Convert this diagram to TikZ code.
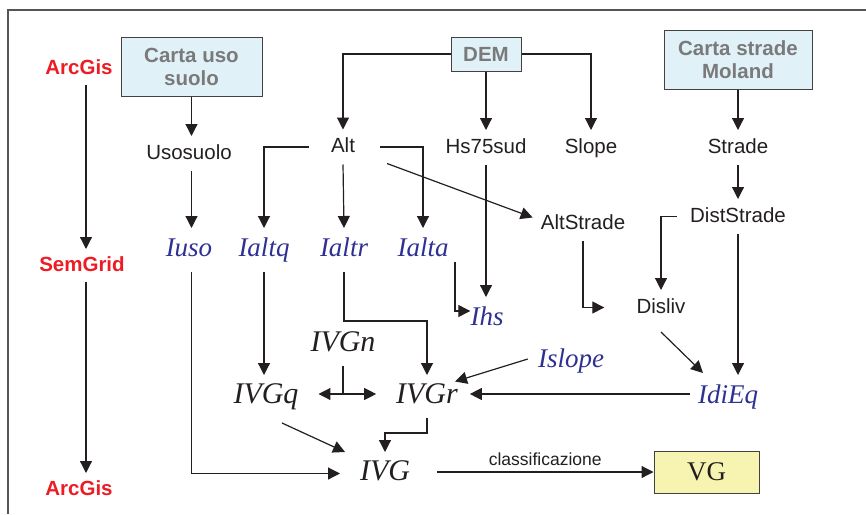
\documentclass[tikz,border=0pt]{standalone}
\usepackage{fontspec}
\setmainfont{Liberation Serif}
\setsansfont{Liberation Sans}
\usetikzlibrary{arrows.meta}

\definecolor{lineC}{HTML}{231F20}
\definecolor{frameC}{HTML}{555555}
\definecolor{toolRed}{HTML}{ED1C24}
\definecolor{idxBlue}{HTML}{2E3192}
\definecolor{srcFill}{HTML}{E1F1F8}
\definecolor{srcText}{HTML}{7A7A7A}
\definecolor{outFill}{HTML}{F7F3B0}

\tikzset{
  conn/.style={draw=lineC, line width=1.2pt, -{Triangle[length=12pt,width=12pt]}},
  plain/.style={draw=lineC, line width=1.2pt},
  tool/.style={font=\sffamily\bfseries\fontsize{20.5}{23}\selectfont, text=toolRed,
    inner sep=0pt, text height=15pt, text depth=4pt, outer ysep=7pt},
  srcbox/.style={draw=lineC!85, line width=1pt, fill=srcFill, text=srcText,
    font=\sffamily\bfseries\fontsize{20.5}{23}\selectfont, align=center, inner sep=0pt},
  var/.style={font=\sffamily\fontsize{20.5}{24}\selectfont, text=lineC,
    inner sep=0pt, text height=15pt, text depth=4pt, outer ysep=8pt},
  idx/.style={font=\itshape\fontsize{27}{30}\selectfont, text=idxBlue,
    inner sep=0pt, text height=18pt, text depth=6pt, outer ysep=10pt},
  ivgl/.style={font=\itshape\fontsize{30}{33}\selectfont, text=lineC,
    inner sep=0pt, text height=20pt, text depth=7pt, outer ysep=8pt, outer xsep=20pt},
  outbox/.style={draw=lineC!85, line width=1pt, fill=outFill, text=lineC,
    font=\fontsize{27}{30}\selectfont, inner sep=0pt},
}

\begin{document}
\begin{tikzpicture}[x=1pt, y=-1pt]
  \useasboundingbox (0,0) rectangle (866,514);

  % open frame
  \draw[frameC, line width=1.2pt] (866,10) -- (8,10) -- (8,514);

  % software column
  \node[tool] (arc1) at (79,68.5) {ArcGis};
  \node[tool] (sem)  at (82,265.5) {SemGrid};
  \node[tool] (arc2) at (79,489.5) {ArcGis};
  \coordinate (toolx) at (86,0);
  \draw[conn] (toolx |- arc1.south) -- (toolx |- sem.north);
  \draw[conn] (toolx |- sem.south) -- (toolx |- arc2.north);

  % source layers
  \node[srcbox, minimum width=141pt, minimum height=59pt] (cus) at (191.5,66.5) {Carta uso\\suolo};
  \node[srcbox, minimum width=70pt, minimum height=34pt] (dem) at (486,54) {DEM};
  \node[srcbox, minimum width=148pt, minimum height=59pt] (cs) at (738,59.5) {Carta strade\\Moland};

  % derived grids
  \node[var] (usosuolo)  at (189,153.5) {Usosuolo};
  \node[var] (alt)       at (343,147) {Alt};
  \node[var] (hs)        at (486,147.5) {Hs75sud};
  \node[var] (slope)     at (591,147.5) {Slope};
  \node[var] (strade)    at (738,147.5) {Strade};
  \node[var] (altstrade) at (583,223.5) {AltStrade};
  \node[var] (dist)      at (738,216.5) {DistStrade};
  \node[var] (disliv)    at (661,307.5) {Disliv};

  % indices
  \node[idx] (iuso)   at (189,250) {Iuso};
  \node[idx] (ialtq)  at (264,250) {Ialtq};
  \node[idx] (ialtr)  at (344,250) {Ialtr};
  \node[idx] (ialta)  at (423,250) {Ialta};
  \node[idx] (ihs)    at (487,319) {Ihs};
  \node[idx] (islope) at (571,361) {Islope};
  \node[idx] (idieq)  at (728,397) {IdiEq};

  % vulnerability indices
  \node[ivgl] (ivgn) at (343,344.5) {IVGn};
  \node[ivgl] (ivgq) at (266,396.5) {IVGq};
  \node[ivgl] (ivgr) at (427,396.5) {IVGr};
  \node[ivgl] (ivg)  at (385,473.5) {IVG};
  \node[outbox, minimum width=105pt, minimum height=42pt] (vg) at (706.5,472) {VG};

  % land use chain
  \draw[conn] (cus.south) -- (cus.south |- usosuolo.north);
  \draw[conn] (usosuolo.south -| cus.south) -- (iuso.north -| cus.south);
  \draw[conn] (iuso.south -| cus.south) |- (ivg.west);

  % DEM chain
  \draw[conn] (dem.west) -| (alt.north);
  \draw[conn] (dem.south) -- (hs.north);
  \draw[conn] (dem.east) -| (slope.north);
  \draw[conn] ([xshift=-22pt]alt.west) -| (ialtq.north);
  \draw[conn] (alt.south) -- (ialtr.north);
  \draw[conn] ([xshift=25pt]alt.east) -| (ialta.north);
  \draw[conn] ([xshift=44pt,yshift=1pt]alt.south) -- ([xshift=-8pt,yshift=6pt]altstrade.west);
  \draw[conn] (hs.south) -- (hs.south |- ihs.north);
  \draw[conn] ([xshift=32pt,yshift=10pt]ialta.south) |- ([yshift=8pt]ihs.west);

  % roads chain
  \draw[conn] (cs.south) -- (strade.north);
  \draw[conn] (strade.south) -- (dist.north);
  \draw[conn] (altstrade.south) |- ([xshift=-32pt]disliv.west);
  \draw[conn] ([xshift=-13pt]dist.west) -| (disliv.north);
  \draw[conn] (dist.south) -- (dist.south |- idieq.north);
  \draw[conn] ([yshift=-7pt]disliv.south) -- ([xshift=-25pt,yshift=2pt]idieq.north);

  % towards IVGr
  \draw[conn] ([xshift=-8pt,yshift=3pt]idieq.west) -- ([xshift=-8pt,yshift=3pt]idieq.west -| ivgr.east);
  \draw[conn] ([xshift=-10pt,yshift=2pt]islope.west) -- ([xshift=28pt,yshift=15pt]ivgr.center);
  \coordinate (bendR) at (427,321);
  \draw[conn] (ialtr.south) |- (bendR) -- (ivgr.north);

  % towards IVGq
  \draw[conn] (ialtq.south) -- (ialtq.south |- ivgq.north);
  \coordinate (split) at (ivgn.south |- 0,394);
  \draw[plain] (ivgn.south) -- (split);
  \draw[conn] (split) -- (split -| ivgq.east);
  \draw[conn] (split) -- (split -| ivgr.west);

  % final index
  \draw[conn] ([xshift=16pt,yshift=-5pt]ivgq.south) -- ([xshift=5pt]ivg.north west);
  \draw[conn] (ivgr.south) -- ++(0,15) -| (ivg.north);
  \draw[conn] ([xshift=7pt,yshift=1.5pt]ivg.east) -- ([yshift=1.5pt]ivg.east -| vg.west)
    node[midway, above=2pt, font=\sffamily\fontsize{17.5}{20}\selectfont, text=lineC] {classificazione};
\end{tikzpicture}
\end{document}
